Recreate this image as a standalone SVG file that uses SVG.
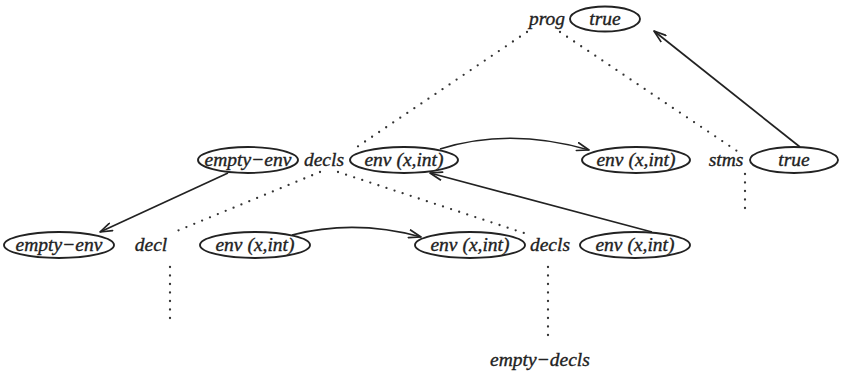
<svg xmlns="http://www.w3.org/2000/svg" width="861" height="378" viewBox="0 0 861 378">
<defs>
<marker id="arr" viewBox="0 0 14 10" refX="13" refY="5" markerWidth="14" markerHeight="10" markerUnits="userSpaceOnUse" orient="auto">
<path d="M1,1 L13,5 L1,9" fill="none" stroke="#222" stroke-width="1.7" stroke-linecap="round" stroke-linejoin="round"/>
</marker>
<style>
text{font-family:"Liberation Serif","Times New Roman",serif;font-style:italic;font-size:19.5px;fill:#222;stroke:#222;stroke-width:0.35;text-anchor:middle}
ellipse{fill:none;stroke:#222;stroke-width:1.9}
.dot{fill:none;stroke:#333;stroke-width:2.3;stroke-linecap:round;stroke-dasharray:0 8.5}
.arr{fill:none;stroke:#222;stroke-width:1.7;marker-end:url(#arr)}
</style>
</defs>
<rect width="861" height="378" fill="#fff"/>
<g id="connectors">
<path class="dot" d="M527,32 L354,149"/>
<path class="dot" d="M560,32 L737,151"/>
<path class="dot" d="M320,172 L172,233"/>
<path class="dot" d="M338,172 L530,235"/>
<path class="dot" d="M170,267 L170,326"/>
<path class="dot" d="M548,267 L548,341"/>
<path class="dot" d="M745,174 L745,213"/>
<path class="arr" d="M800,147 L654,31"/>
<path class="arr" d="M228,173 L100,232"/>
<path class="arr" d="M652,232 L430,173"/>
<path class="arr" d="M440,149 Q510,127 589,150"/>
<path class="arr" d="M292,235 Q355,219 421,237"/>
</g>
<g id="prog"><text x="547" y="25">prog</text></g>
<g id="prog-true"><ellipse cx="605" cy="19" rx="35" ry="12.5"/><text x="605" y="25">true</text></g>
<g id="decls1-in"><ellipse cx="248" cy="160" rx="50" ry="13"/><text x="248" y="166">empty−env</text></g>
<g id="decls1"><text x="324" y="166">decls</text></g>
<g id="decls1-out"><ellipse cx="404" cy="160" rx="54" ry="13"/><text x="404" y="166">env (x,int)</text></g>
<g id="stms-in"><ellipse cx="636" cy="160" rx="54" ry="13"/><text x="636" y="166">env (x,int)</text></g>
<g id="stms"><text x="726" y="166">stms</text></g>
<g id="stms-out"><ellipse cx="794" cy="160" rx="44" ry="13"/><text x="794" y="166">true</text></g>
<g id="decl-in"><ellipse cx="59" cy="245" rx="55" ry="13"/><text x="59" y="251">empty−env</text></g>
<g id="decl"><text x="151" y="251">decl</text></g>
<g id="decl-out"><ellipse cx="255" cy="245" rx="55" ry="13"/><text x="255" y="251">env (x,int)</text></g>
<g id="decls2-in"><ellipse cx="470" cy="245" rx="55" ry="13"/><text x="470" y="251">env (x,int)</text></g>
<g id="decls2"><text x="550" y="251">decls</text></g>
<g id="decls2-out"><ellipse cx="635" cy="245" rx="55" ry="13"/><text x="635" y="251">env (x,int)</text></g>
<g id="empty-decls"><text x="540" y="366">empty−decls</text></g>
</svg>
